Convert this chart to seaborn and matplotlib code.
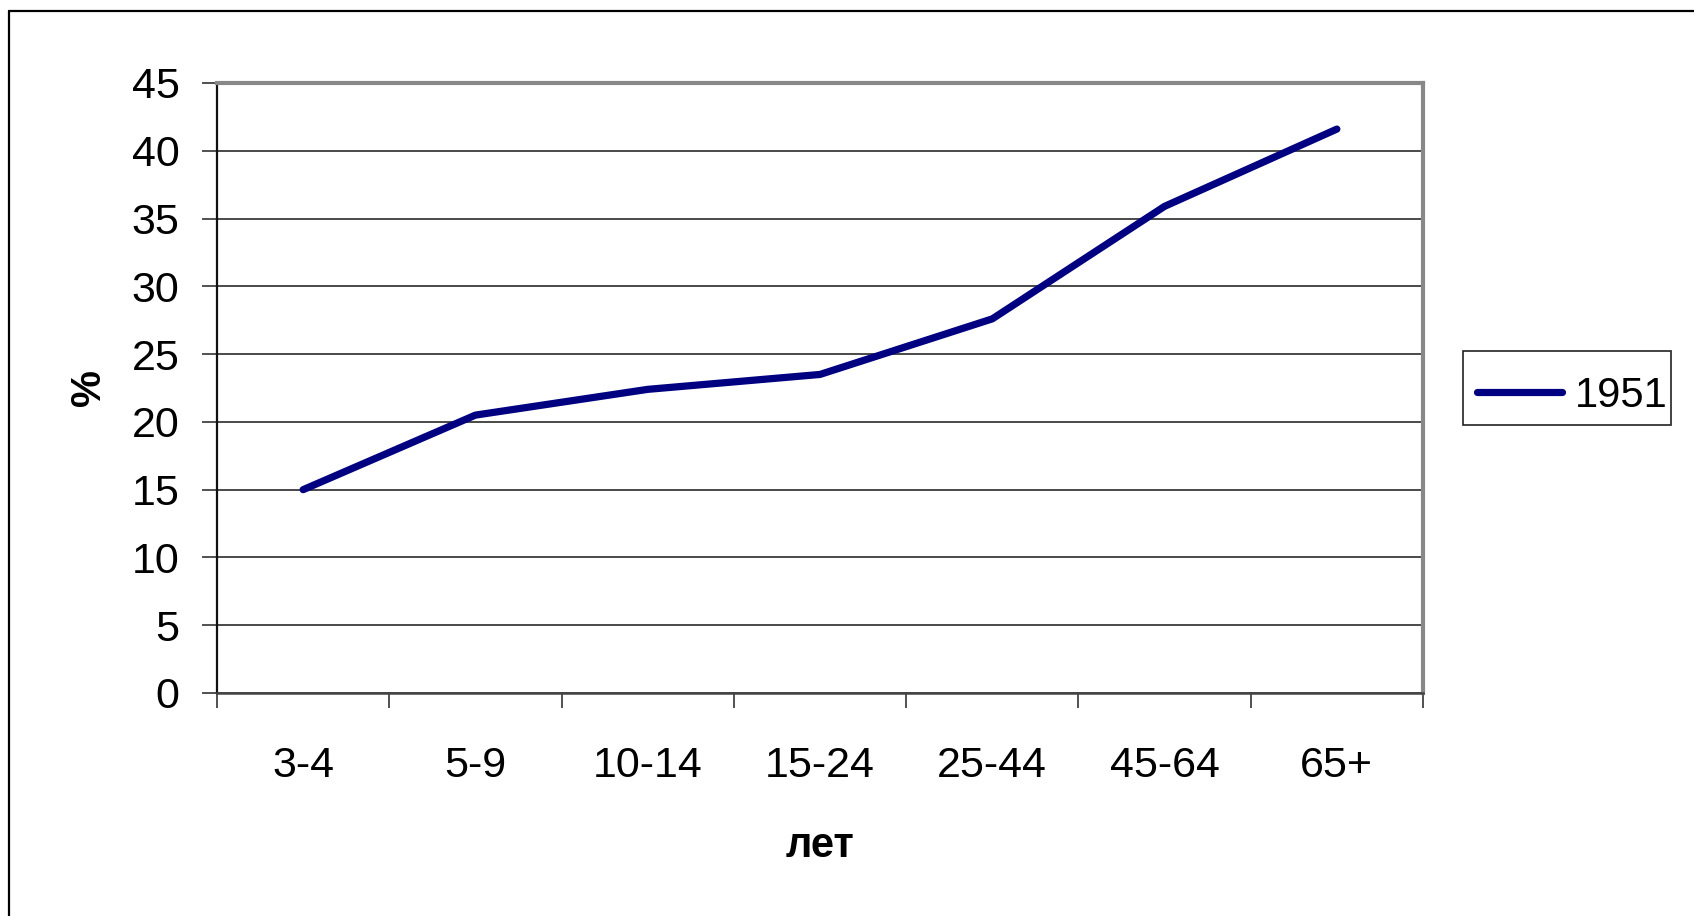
import matplotlib
matplotlib.use("Agg")
import matplotlib.pyplot as plt
from matplotlib.lines import Line2D
from matplotlib.patches import Rectangle
from matplotlib.ticker import FixedLocator
import seaborn as sns
import pandas as pd

# Share of the population by age group, 1951
age_groups = ["3-4", "5-9", "10-14", "15-24", "25-44", "45-64", "65+"]
share_1951 = [15.0, 20.5, 22.4, 23.5, 27.6, 35.9, 41.6]
series_name = "1951"
y_ticks = [0, 5, 10, 15, 20, 25, 30, 35, 40, 45]

sns.set_theme(style="white")
plt.rcParams["font.family"] = ["Liberation Sans", "DejaVu Sans"]
plt.rcParams["text.color"] = "black"
plt.rcParams["axes.labelcolor"] = "black"
plt.rcParams["xtick.color"] = "black"
plt.rcParams["ytick.color"] = "black"

W, H, DPI = 1694, 916, 100
fig = plt.figure(figsize=(W / DPI, H / DPI), dpi=DPI)
fig.patch.set_facecolor("white")

ax = fig.add_axes([217 / W, 1 - 693 / H, (1423 - 217) / W, (693 - 83) / H])

df = pd.DataFrame({"age": age_groups, "share": share_1951})
sns.lineplot(data=df, x="age", y="share", ax=ax, color="#000080",
             linewidth=5.2, label=series_name, sort=False,
             solid_capstyle="round", solid_joinstyle="round")

ax.set_xlim(-0.5, len(age_groups) - 0.5)
ax.set_ylim(0, 45)
ax.set_yticks(y_ticks)
ax.set_yticklabels([str(t) for t in y_ticks])
ax.yaxis.grid(True, color="#3a3a3a", linewidth=1.3)
ax.xaxis.grid(False)

# category labels at centres, tick marks on the boundaries
ax.set_xticks(range(len(age_groups)))
ax.set_xticklabels(age_groups)
ax.xaxis.set_minor_locator(FixedLocator([i - 0.5 for i in range(len(age_groups) + 1)]))
ax.tick_params(axis="x", which="major", length=0, pad=38, labelsize=31, labelcolor="black")
ax.tick_params(axis="x", which="minor", length=11, width=1.2, color="#333333", bottom=True)
ax.tick_params(axis="y", which="major", length=11, width=1.2, color="#333333",
               pad=16, labelsize=31, labelcolor="black", left=True)

ax.set_xlabel("лет", fontsize=30, fontweight="bold", labelpad=29, color="black")
ax.set_ylabel("%", fontsize=30, fontweight="bold", labelpad=16, color="black")

for side in ("top", "right"):
    ax.spines[side].set_color("#888888")
    ax.spines[side].set_linewidth(3)
ax.spines["left"].set_color("#111111")
ax.spines["left"].set_linewidth(1.6)
ax.spines["bottom"].set_color("#444444")
ax.spines["bottom"].set_linewidth(1.8)

# legend entries without the automatic frame; box drawn separately
leg = ax.legend(loc="center left", bbox_to_anchor=(1477 / W, 1 - 396 / H),
                bbox_transform=fig.transFigure, fontsize=30, frameon=False,
                borderpad=0, handlelength=2.05, handletextpad=0.3,
                borderaxespad=0)
for t in leg.get_texts():
    t.set_color("black")
for h in leg.get_lines():
    h.set_linewidth(5.2)
fig.add_artist(Rectangle((1463 / W, 1 - 425 / H), (1671 - 1463) / W, (425 - 351) / H,
                         transform=fig.transFigure, fill=False,
                         edgecolor="#222222", linewidth=1.2))

# outer chart border
fig.add_artist(Line2D([9 / W, 9 / W], [0, 1 - 11 / H], transform=fig.transFigure,
                      color="black", linewidth=1.6))
fig.add_artist(Line2D([9 / W, 1], [1 - 11 / H, 1 - 11 / H], transform=fig.transFigure,
                      color="black", linewidth=1.6))

fig.savefig("out.png", dpi=DPI, facecolor="white")
